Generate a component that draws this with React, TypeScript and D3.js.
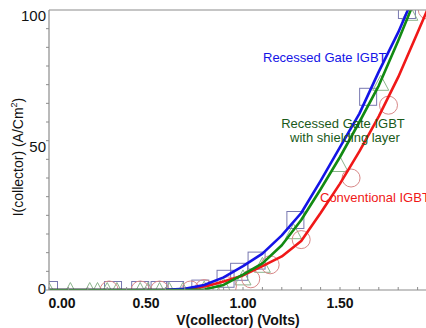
import React from 'react';
import * as d3 from 'd3';

// simulated curves, sampled every 0.1 V
const volts = [0, 0.1, 0.2, 0.3, 0.4, 0.5, 0.6, 0.7, 0.8, 0.9, 1.0, 1.1, 1.2, 1.3, 1.4, 1.5, 1.6, 1.7, 1.8, 1.9, 2.0];
const recessedI = [0, 0, 0, 0, 0, 0, 0.05, 0.4, 1.8, 4.5, 8.5, 13, 19.5, 27.5, 39, 51, 63, 78, 92, 108, 124];
const shieldedI = [0, 0, 0, 0, 0, 0, 0, 0, 0.2, 1.8, 5.5, 9.5, 16, 25, 36, 47.5, 60, 73, 89, 106, 123];
const conventionalI = [0, 0, 0, 0, 0, 0, 0, 0.3, 1.2, 3, 5.2, 8.5, 12, 17.5, 27.5, 38, 49.5, 62, 76, 92, 108];

// measured points
const squareV = [0, 0.33, 0.47, 0.57, 0.65, 0.78, 0.91, 0.98, 1.07, 1.27, 1.645, 1.845];
const squareI = [0, 0, 0, 0, 0, 0.5, 4, 6.5, 10.5, 25, 69, 100];
const triangleV = [0, 0.11, 0.21, 0.25, 0.3, 0.35, 0.47, 0.51, 0.57, 0.62, 0.69, 0.8, 0.9, 1.0, 1.1, 1.26, 1.5, 1.71, 1.86];
const triangleI = [0, 0, 0, 0, 0, 0, 0, 0, 0, 0, 0, 0.5, 1.5, 4.5, 9, 21, 45, 74, 99];
const circleV = [0.31, 0.47, 0.57, 0.73, 0.8, 0.92, 1.04, 1.14, 1.3, 1.557, 1.75, 1.95];
const circleI = [0, 0, 0, 0, 0.5, 1.5, 4, 9, 18, 40, 66, 100];

const xTickLabels = ['0.00', '0.50', '1.00', '1.50'];
const xTickValues = [0, 0.5, 1.0, 1.5];
const yTickLabels = ['0', '50', '100'];
const yTickValues = [0, 50, 100];

const W = 426;
const H = 328;
const left = 49;
const top = 10;
const bottom = 290;

const font = '"Liberation Sans", Arial, sans-serif';
const axisColor = '#8c8c8c';

export default function App() {
  const x = d3.scaleLinear().domain([0, 2]).range([left, left + 388]);
  const y = d3.scaleLinear().domain([0, 100]).range([bottom, top]);

  const line = d3
    .line<number>()
    .x((_, i) => x(volts[i]))
    .y(d => y(d));

  const curves = [
    { values: conventionalI, color: '#f01818' },
    { values: recessedI, color: '#1414e6' },
    { values: shieldedI, color: '#128a12' },
  ];

  const xMinor = d3.range(0, 2.01, 0.1);
  const yMinor = d3.range(0, 15).map(k => (k * 100) / 15);

  const tri = (cx: number, cy: number) => {
    const w = 8, h = 7.5;
    return `M${cx - w},${cy + h}L${cx + w},${cy + h}L${cx},${cy - h}Z`;
  };

  return (
    <svg
      width={W}
      height={H}
      style={{ position: 'absolute', left: 0, top: 0, background: '#fff' }}
      fontFamily={font}
    >
      <defs>
        <clipPath id="plot">
          <rect x={left} y={top} width={W - left} height={bottom - top} />
        </clipPath>
      </defs>

      <g clipPath="url(#plot)">
        {squareV.map((v, i) => (
          <rect
            key={'s' + i}
            x={x(v) - 8.5}
            y={y(squareI[i]) - 8.5}
            width={17}
            height={17}
            fill="none"
            stroke="#7878b0"
            strokeWidth={1}
          />
        ))}
        {triangleV.map((v, i) => (
          <path key={'t' + i} d={tri(x(v), y(triangleI[i]))} fill="none" stroke="#8cb48c" strokeWidth={1} />
        ))}
        {circleV.map((v, i) => (
          <circle key={'c' + i} cx={x(v)} cy={y(circleI[i])} r={9} fill="none" stroke="#d88888" strokeWidth={1} />
        ))}
        {curves.map((c, i) => (
          <path key={i} d={line(c.values) || ''} fill="none" stroke={c.color} strokeWidth={2.6} strokeLinejoin="round" />
        ))}
      </g>

      {/* frame */}
      <line x1={left} x2={W} y1={top} y2={top} stroke={axisColor} strokeWidth={1.2} />
      <line x1={left} x2={left} y1={top} y2={bottom} stroke={axisColor} strokeWidth={1.2} />
      <line x1={left} x2={W} y1={bottom} y2={bottom} stroke={axisColor} strokeWidth={1.2} />

      {xMinor.map((v, i) => (
        <line key={'xm' + i} x1={x(v)} x2={x(v)} y1={bottom} y2={bottom - 3} stroke={axisColor} />
      ))}
      {yMinor.map((v, i) => (
        <line key={'ym' + i} x1={left} x2={left - 3} y1={y(v)} y2={y(v)} stroke={axisColor} />
      ))}

      {xTickValues.map((v, i) => (
        <text
          key={'xl' + i}
          x={x(v) + (i === 0 ? 13 : 0)}
          y={308}
          textAnchor="middle"
          fontSize={14}
          fontWeight="bold"
          fill="#111"
        >
          {xTickLabels[i]}
        </text>
      ))}
      {yTickValues.map((v, i) => (
        <text
          key={'yl' + i}
          x={46}
          y={v === 100 ? 16 : v === 50 ? 147 : 289}
          dy="0.35em"
          textAnchor="end"
          fontSize={15}
          fill="#111"
        >
          {yTickLabels[i]}
        </text>
      ))}

      <text x={238} y={325} textAnchor="middle" fontSize={14} fontWeight="bold" fill="#111">
        V(collector) (Volts)
      </text>
      <text transform="translate(23,157) rotate(-90)" textAnchor="middle" fontSize={14} fill="#111">
        I(collector) (A/Cm<tspan fontSize={9} dy={-6}>2</tspan>
        <tspan dy={6}>)</tspan>
      </text>

      <text x={263} y={62} fontSize={13} fill="#1414e6">
        Recessed Gate IGBT
      </text>
      <text x={343} y={128} textAnchor="middle" fontSize={13} fill="#1a5a1a">
        Recessed Gate IGBT
      </text>
      <text x={345} y={142} textAnchor="middle" fontSize={13} fill="#1a5a1a">
        with shielding layer
      </text>
      <text x={320} y={202} fontSize={13} fill="#f01818">
        Conventional IGBT
      </text>
    </svg>
  );
}
